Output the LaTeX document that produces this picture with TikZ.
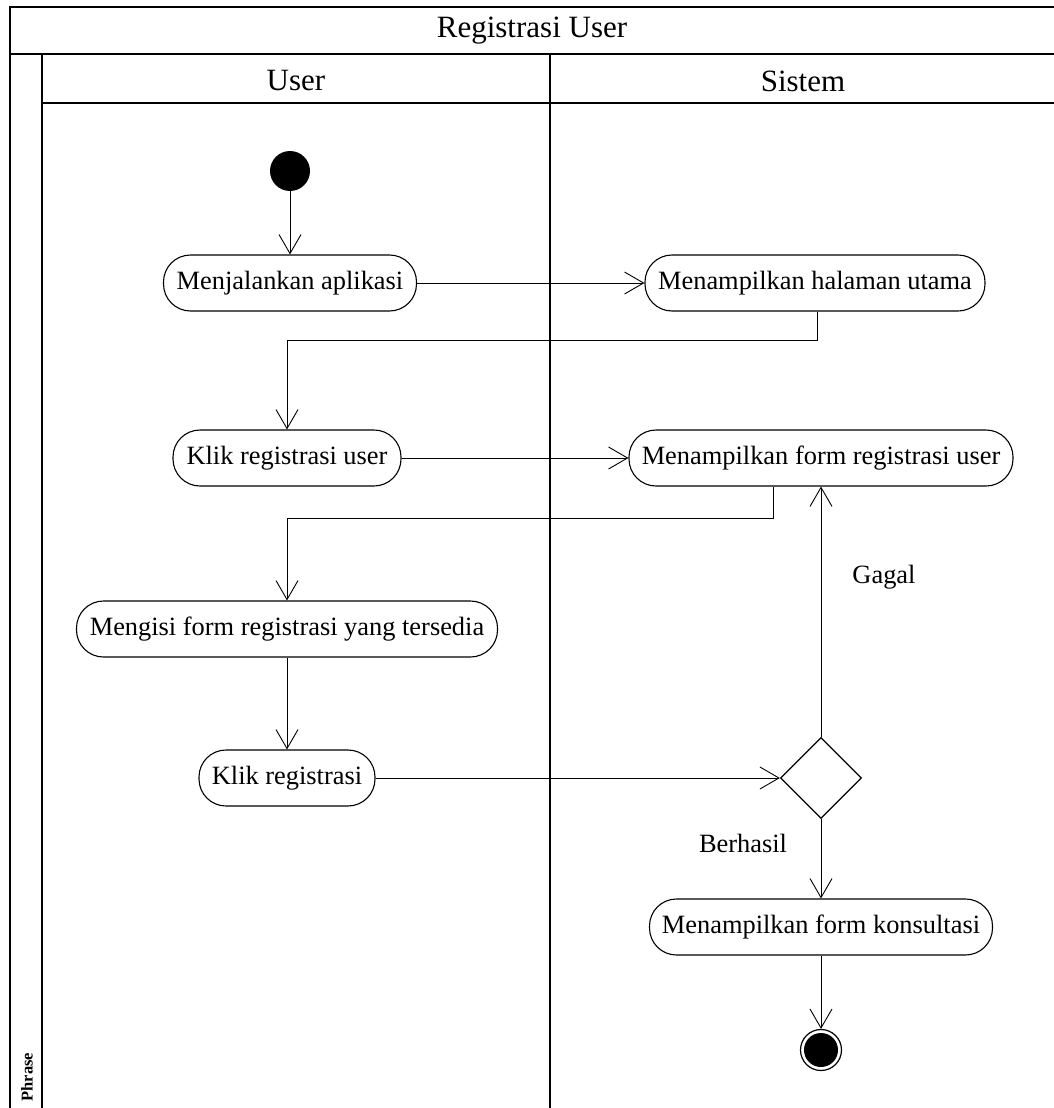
\documentclass[tikz,border=0pt]{standalone}
\usepackage{fontspec}
\setmainfont{Liberation Serif}
\usetikzlibrary{arrows.meta,shapes.geometric,calc}
\begin{document}
\begin{tikzpicture}[x=1pt,y=-1pt,
  frame/.style={line width=1.8pt},
  act/.style={draw, line width=1.1pt, rounded corners=27pt, minimum height=56pt,
    inner xsep=0pt, inner ysep=0pt, font=\fontsize{26.4}{30}\selectfont},
  lbl/.style={font=\fontsize{26.4}{30}\selectfont},
  head/.style={font=\fontsize{31}{34}\selectfont},
  arr/.style={line width=0.9pt, -{Straight Barb[length=19pt,width=22pt,line width=0.9pt]}},
  decision/.style={draw, diamond, line width=1.3pt, minimum width=81pt, minimum height=81pt, inner sep=0pt}]
\useasboundingbox (0,0) rectangle (1054,1108);

% swimlane frame
\draw[frame] (10,1108) -- (10,7) -- (1054,7);
\draw[frame] (10,54) -- (1054,54);
\draw[frame] (42,54) -- (42,1108);
\draw[frame] (42,103) -- (1054,103);
\draw[frame] (550,54) -- (550,1108);

\node[head] (title) at (532,31) {Registrasi User};
\node[head] (laneU) at (296,81) {User};
\node[head] (laneS) at (803,81) {Sistem};
\node[rotate=90, font=\bfseries\fontsize{16.5}{18}\selectfont] (phrase) at (27,1077) {Phrase};

% activities
\node[circle, fill=black, minimum size=40pt, inner sep=0pt] (start) at (290,171) {};
\node[act, minimum width=253pt] (a1) at (290,283) {Menjalankan aplikasi};
\node[act, minimum width=340pt] (s1) at (815,283) {Menampilkan halaman utama};
\node[act, minimum width=228pt] (a2) at (287,458) {Klik registrasi user};
\node[act, minimum width=384pt] (s2) at (821,458) {Menampilkan form registrasi user};
\node[act, minimum width=421pt] (a3) at (287,629) {Mengisi form registrasi yang tersedia};
\node[act, minimum width=176pt] (a4) at (287,778) {Klik registrasi};
\node[decision] (d) at (821,778) {};
\node[act, minimum width=343pt] (s3) at (821,927) {Menampilkan form konsultasi};
\node[circle, draw, line width=1.2pt, minimum size=41pt, inner sep=0pt] (end) at (821,1050) {};
\fill (end.center) circle (17pt);

% flow
\draw[arr] (start) -- (a1.north);
\draw[arr] (a1.east) -- (s1.west);
\coordinate (j1) at ($(s1.south)+(2,29)$);
\draw[arr] ($(s1.south)+(2,0)$) -- (j1) -| (a2.north);
\draw[arr] (a2.east) -- (s2.west);
\coordinate (j2) at ($(s2.south)+(-48,32)$);
\draw[arr] ($(s2.south)+(-48,0)$) -- (j2) -| (a3.north);
\draw[arr] (a3.south) -- (a4.north);
\draw[arr] (a4.east) -- (d.west);
\draw[arr] (d.north) -- (s2.south);
\draw[arr] (d.south) -- (s3.north);
\draw[arr] (s3.south) -- (end.north);

\node[lbl] (gagal) at (884,577) {Gagal};
\node[lbl] (berhasil) at (743,843) {Berhasil};
\end{tikzpicture}
\end{document}
